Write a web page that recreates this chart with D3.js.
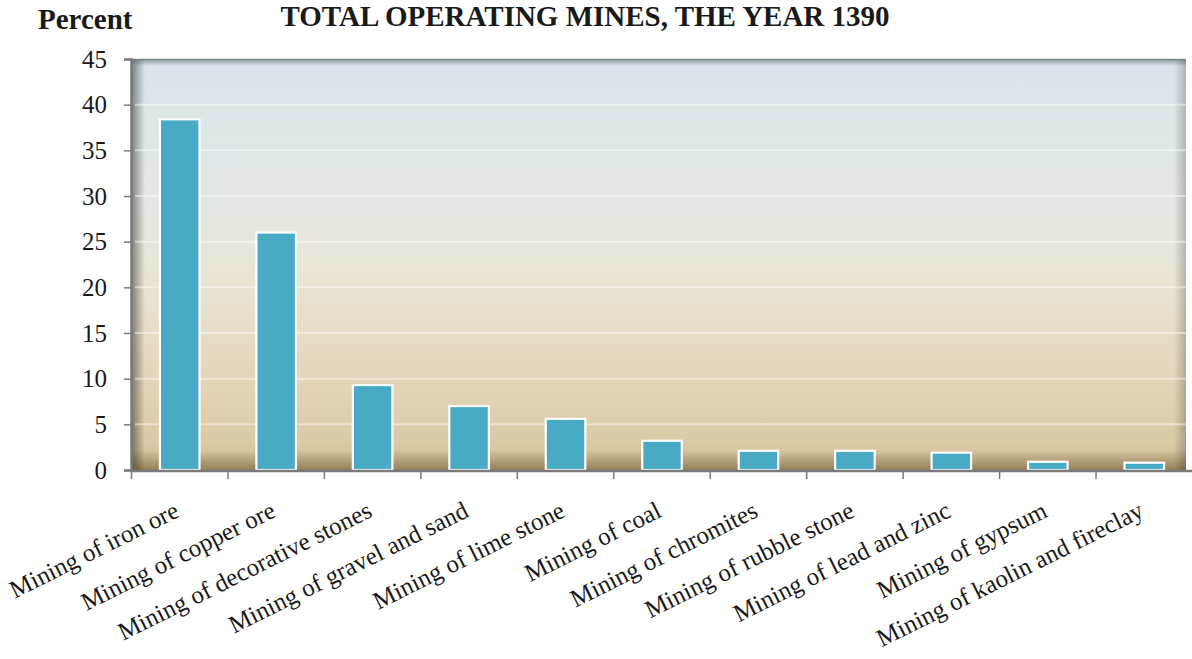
<!DOCTYPE html>
<html>
<head>
<meta charset="utf-8">
<script src="https://cdn.jsdelivr.net/npm/d3@7"></script>
<style>
  html, body { margin: 0; padding: 0; background: #fff; }
  svg { display: block; }
  text { font-family: "Liberation Serif", "Times New Roman", serif; fill: #1a1a1a; }
</style>
</head>
<body>
<script>
const categories = [
  "Mining of iron ore",
  "Mining of copper ore",
  "Mining of decorative stones",
  "Mining of gravel and sand",
  "Mining of lime stone",
  "Mining of coal",
  "Mining of chromites",
  "Mining of rubble stone",
  "Mining of lead and zinc",
  "Mining of gypsum",
  "Mining of kaolin and fireclay"
];
const values = [38.4, 26.0, 9.3, 7.0, 5.6, 3.2, 2.1, 2.1, 1.9, 0.9, 0.8];
const yTicks = [0, 5, 10, 15, 20, 25, 30, 35, 40, 45];
const title = "TOTAL OPERATING MINES, THE YEAR 1390";
const yLabel = "Percent";

(function () {
const W = 1192, H = 659;
const mLeft = 131, mRight = 1193, mTop = 59, mBottom = 470;
const plotRight = 1186;

const svg = d3.select("body").append("svg").attr("width", W).attr("height", H);
const defs = svg.append("defs");

const bg = defs.append("linearGradient").attr("id", "bg").attr("x1", 0).attr("y1", 0).attr("x2", 0).attr("y2", 1);
[[0, "#d8e5eb"], [0.3, "#e2e7e5"], [0.5, "#e9e6d8"], [0.75, "#e4d8bc"], [0.93, "#dacaa6"], [1, "#d0bd95"]]
  .forEach(([o, c]) => bg.append("stop").attr("offset", o).attr("stop-color", c));

function grad(id, x1, y1, x2, y2, color, op) {
  const g = defs.append("linearGradient").attr("id", id).attr("x1", x1).attr("y1", y1).attr("x2", x2).attr("y2", y2);
  g.append("stop").attr("offset", 0).attr("stop-color", color).attr("stop-opacity", op);
  g.append("stop").attr("offset", 1).attr("stop-color", color).attr("stop-opacity", 0);
}
grad("shL", 0, 0, 1, 0, "#000", 0.45);
grad("shB", 0, 1, 0, 0, "#4a3510", 0.45);
grad("shT", 0, 0, 0, 1, "#4a5a5e", 0.55);
grad("shR", 1, 0, 0, 0, "#000", 0.22);

const x = d3.scaleBand().domain(categories).range([mLeft, mRight]).paddingInner(0.59).paddingOuter(0.3);
const y = d3.scaleLinear().domain([0, 45]).range([mBottom, mTop]);

// plot background
svg.append("rect").attr("x", mLeft).attr("y", mTop).attr("width", plotRight - mLeft).attr("height", mBottom - mTop).attr("fill", "url(#bg)");
svg.append("rect").attr("x", mLeft).attr("y", mTop).attr("width", 14).attr("height", mBottom - mTop).attr("fill", "url(#shL)");
svg.append("rect").attr("x", mLeft).attr("y", mBottom - 20).attr("width", plotRight - mLeft).attr("height", 20).attr("fill", "url(#shB)");
svg.append("rect").attr("x", mLeft).attr("y", mTop).attr("width", plotRight - mLeft).attr("height", 7).attr("fill", "url(#shT)");
svg.append("rect").attr("x", plotRight - 12).attr("y", mTop).attr("width", 12).attr("height", mBottom - mTop).attr("fill", "url(#shR)");
svg.append("line").attr("x1", mLeft).attr("x2", plotRight).attr("y1", mTop + 0.5).attr("y2", mTop + 0.5).attr("stroke", "#7d8a8c").attr("stroke-width", 1.5);

// gridlines
svg.append("g").selectAll("line").data(yTicks.filter(t => t > 0 && t < 45)).join("line")
  .attr("x1", mLeft + 4).attr("x2", plotRight)
  .attr("y1", d => y(d)).attr("y2", d => y(d))
  .attr("stroke", "#ffffff").attr("stroke-opacity", 0.45).attr("stroke-width", 2);

// bars
svg.append("g").selectAll("rect").data(values).join("rect")
  .attr("x", (d, i) => x(categories[i]))
  .attr("y", d => y(d))
  .attr("width", x.bandwidth())
  .attr("height", d => mBottom - y(d))
  .attr("fill", "#49aac6")
  .attr("stroke", "#ffffff")
  .attr("stroke-width", 2.2);

// y axis
const yAxis = svg.append("g").attr("transform", `translate(${mLeft},0)`)
  .call(d3.axisLeft(y).tickValues(yTicks).tickSize(7).tickPadding(17));
yAxis.select(".domain").attr("stroke", "#7a7a7a").attr("stroke-width", 2.5);
yAxis.selectAll(".tick line").attr("stroke", "#7a7a7a").attr("stroke-width", 1.5);
yAxis.selectAll(".tick text").attr("font-size", 25).attr("font-family", "Liberation Serif").attr("fill", "#1a1a1a");

// x axis
const step = x.step();
const xg = svg.append("g");
xg.append("line").attr("x1", mLeft).attr("x2", W).attr("y1", mBottom + 1).attr("y2", mBottom + 1)
  .attr("stroke", "#7a7a7a").attr("stroke-width", 2.5);
xg.selectAll("line.t").data(categories).join("line").attr("class", "t")
  .attr("x1", d => x(d) + x.bandwidth() / 2 - step / 2)
  .attr("x2", d => x(d) + x.bandwidth() / 2 - step / 2)
  .attr("y1", mBottom + 1).attr("y2", mBottom + 9)
  .attr("stroke", "#7a7a7a").attr("stroke-width", 1.5);

xg.selectAll("text").data(categories).join("text")
  .attr("transform", d => `translate(${x(d) + x.bandwidth() / 2 + 1},${mBottom + 46}) rotate(-26.5)`)
  .attr("text-anchor", "end")
  .attr("font-size", 25)
  .text(d => d);

// title and axis label
svg.append("text").attr("x", 585).attr("y", 26).attr("text-anchor", "middle")
  .attr("font-size", 29).attr("font-weight", "bold").text(title);
svg.append("text").attr("x", 38).attr("y", 29)
  .attr("font-size", 29).attr("font-weight", "bold").text(yLabel);
})();
</script>
</body>
</html>
